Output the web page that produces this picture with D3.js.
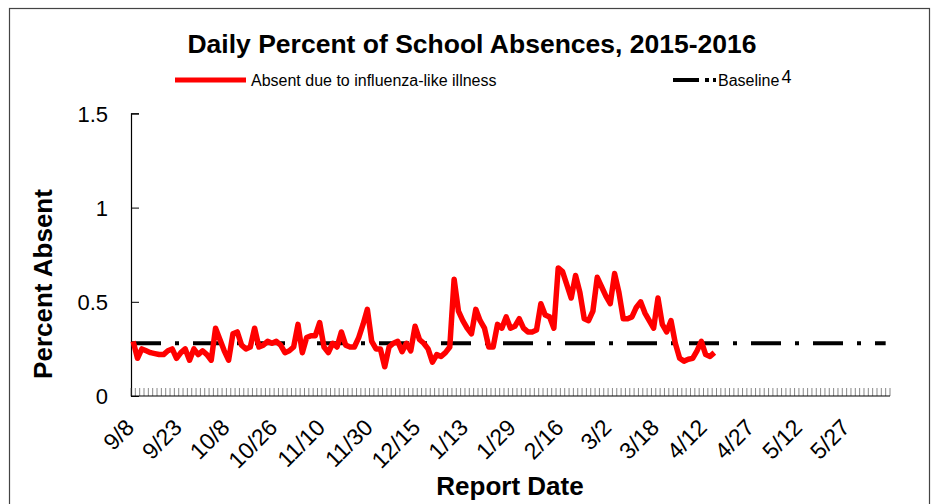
<!DOCTYPE html>
<html>
<head>
<meta charset="utf-8">
<script src="https://cdn.jsdelivr.net/npm/d3@7"></script>
<style>
  body { margin: 0; background: #fff; }
  text { font-family: "Liberation Sans", Arial, sans-serif; }
</style>
</head>
<body>
<script>
// school days on the category axis, labels every 11 days
var nDays = 175;
var tickLabels = ["9/8", "9/23", "10/8", "10/26", "11/10", "11/30", "12/15", "1/13",
                  "1/29", "2/16", "3/2", "3/18", "4/12", "4/27", "5/12", "5/27"];
var labelStep = 11;

// percent absent due to influenza-like illness, one value per report day
var absentILI = [
  0.29, 0.20, 0.25, 0.24, 0.23, 0.225, 0.22, 0.22, 0.24, 0.25,
  0.20, 0.23, 0.25, 0.19, 0.25, 0.22, 0.24, 0.22, 0.19, 0.36,
  0.30, 0.24, 0.19, 0.33, 0.34, 0.27, 0.25, 0.26, 0.36, 0.26,
  0.27, 0.29, 0.28, 0.29, 0.27, 0.23, 0.24, 0.26, 0.38, 0.23,
  0.31, 0.32, 0.32, 0.39, 0.26, 0.23, 0.28, 0.26, 0.34, 0.27,
  0.26, 0.26, 0.31, 0.38, 0.46, 0.29, 0.25, 0.25, 0.155, 0.26,
  0.28, 0.29, 0.235, 0.28, 0.24, 0.37, 0.30, 0.28, 0.25, 0.18,
  0.22, 0.21, 0.23, 0.26, 0.62, 0.45, 0.40, 0.36, 0.33, 0.46,
  0.40, 0.36, 0.26, 0.26, 0.38, 0.36, 0.42, 0.36, 0.37, 0.41,
  0.36, 0.34, 0.34, 0.35, 0.49, 0.43, 0.42, 0.36, 0.68, 0.66,
  0.59, 0.52, 0.64, 0.55, 0.41, 0.40, 0.45, 0.63, 0.58, 0.53,
  0.49, 0.65, 0.55, 0.41, 0.41, 0.42, 0.47, 0.50, 0.44, 0.40,
  0.36, 0.52, 0.38, 0.34, 0.40, 0.28, 0.20, 0.185, 0.195, 0.20,
  0.24, 0.29, 0.22, 0.21, 0.23
];
var baseline = 0.28;
var yTicks = [0, 0.5, 1, 1.5];

var w = 940, h = 504;
var plotLeft = 131, plotRight = 890, plotTop = 113.4, plotBottom = 396;

var svg = d3.select("body").append("svg")
  .attr("width", w)
  .attr("height", h);

// outer frame
svg.append("rect")
  .attr("x", 9.5).attr("y", 8.5)
  .attr("width", 920).attr("height", 520)
  .attr("fill", "none")
  .attr("stroke", "#444")
  .attr("stroke-width", 1.2);

var days = d3.range(nDays);
var x = d3.scaleBand().domain(days).range([plotLeft, plotRight]);
var y = d3.scaleLinear().domain([0, 1.5]).range([plotBottom, plotTop]);
var cx = function(i) { return x(i) + x.bandwidth() / 2; };

// y axis
var yAxis = d3.axisRight(y).tickValues(yTicks).tickSize(8).tickFormat(d3.format("~g"));
var gy = svg.append("g").attr("transform", "translate(" + plotLeft + ",0)").call(yAxis);
gy.select(".domain").attr("stroke", "#000").attr("stroke-width", 1.2);
gy.selectAll(".tick line").attr("stroke", "#000");
gy.selectAll(".tick text")
  .attr("x", -23).attr("dy", "0.36em")
  .attr("text-anchor", "end")
  .style("font-size", "22px").attr("fill", "#000");

// x axis: a tick between every school day
var xAxisLine = svg.append("g");
xAxisLine.selectAll("line")
  .data(d3.range(nDays + 1))
  .enter()
  .append("line")
  .attr("x1", function(d) { return plotLeft + d * x.bandwidth(); })
  .attr("x2", function(d) { return plotLeft + d * x.bandwidth(); })
  .attr("y1", plotBottom)
  .attr("y2", plotBottom - 8)
  .attr("stroke", "#555")
  .attr("stroke-width", 0.7);
xAxisLine.append("line")
  .attr("x1", plotLeft).attr("x2", plotRight)
  .attr("y1", plotBottom).attr("y2", plotBottom)
  .attr("stroke", "#000").attr("stroke-width", 1.2);

svg.append("g").selectAll("text")
  .data(tickLabels)
  .enter()
  .append("text")
  .attr("transform", function(d, i) {
    return "translate(" + (cx(i * labelStep) + 2.5) + "," + 429 + ") rotate(-45)";
  })
  .attr("text-anchor", "end")
  .style("font-size", "23px")
  .text(function(d) { return d; });

// baseline
svg.append("path")
  .datum(days)
  .attr("d", d3.line().x(function(d) { return x(d); }).y(function() { return y(baseline); }))
  .attr("fill", "none")
  .attr("stroke", "#000")
  .attr("stroke-width", 4)
  .attr("stroke-dasharray", "30,14,4,14");

// absences line
svg.append("path")
  .datum(absentILI)
  .attr("d", d3.line().x(function(d, i) { return cx(i); }).y(function(d) { return y(d); }))
  .attr("fill", "none")
  .attr("stroke", "#ff0000")
  .attr("stroke-width", 5.5)
  .attr("stroke-linejoin", "round");

// titles
svg.append("text")
  .attr("x", 472).attr("y", 53)
  .attr("text-anchor", "middle")
  .style("font-size", "26.5px").style("font-weight", "bold")
  .text("Daily Percent of School Absences, 2015-2016");

svg.append("text")
  .attr("transform", "translate(52,284) rotate(-90)")
  .attr("text-anchor", "middle")
  .style("font-size", "26px").style("font-weight", "bold")
  .text("Percent Absent");

svg.append("text")
  .attr("x", 510).attr("y", 495)
  .attr("text-anchor", "middle")
  .style("font-size", "26px").style("font-weight", "bold")
  .text("Report Date");

// legend
var lg = svg.append("g");
lg.append("line")
  .attr("x1", 175).attr("x2", 246).attr("y1", 80).attr("y2", 80)
  .attr("stroke", "#ff0000").attr("stroke-width", 5);
lg.append("text")
  .attr("x", 251).attr("y", 86)
  .style("font-size", "16px")
  .text("Absent due to influenza-like illness");
lg.append("line")
  .attr("x1", 673).attr("x2", 716).attr("y1", 80).attr("y2", 80)
  .attr("stroke", "#000").attr("stroke-width", 4)
  .attr("stroke-dasharray", "26,6,4,4,4,40");
var bl = lg.append("text")
  .attr("x", 718).attr("y", 86)
  .style("font-size", "16px");
bl.append("tspan").text("Baseline");
bl.append("tspan").attr("dx", 2).attr("dy", -3).style("font-size", "18px").text("4");
</script>
</body>
</html>
